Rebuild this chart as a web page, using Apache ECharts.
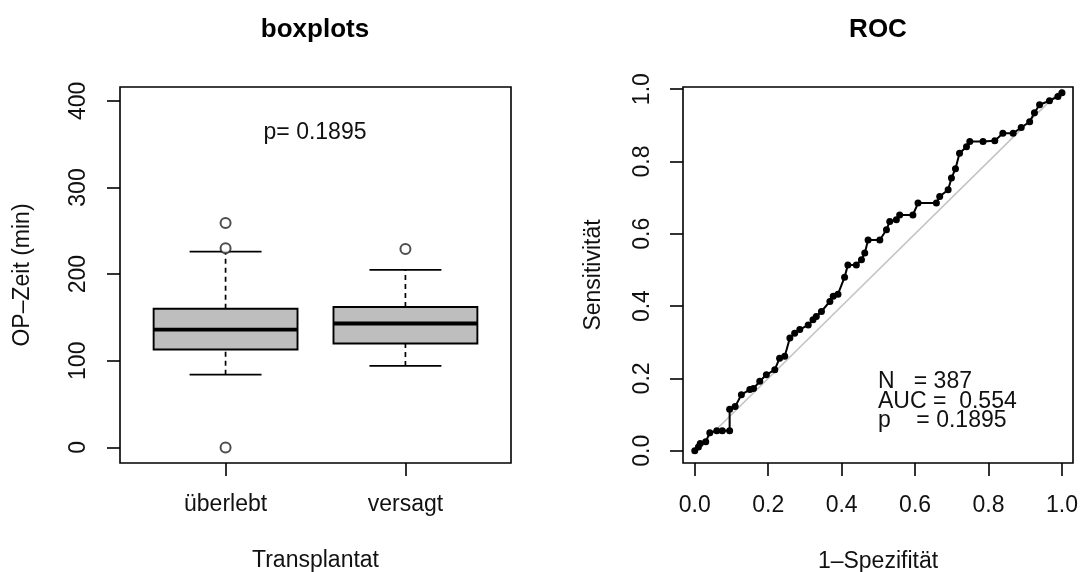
<!DOCTYPE html>
<html><head><meta charset="utf-8">
<script src="https://cdn.jsdelivr.net/npm/echarts@6/dist/echarts.min.js"></script>
<style>html,body{margin:0;padding:0;background:#fff}#c{width:1082px;height:572px}</style>
</head><body><div id="c"></div>
<script>
// ---------- data ----------
const categories = ['überlebt', 'versagt'];
const lowerWhisker = [84, 94];
const q1 = [113, 120];
const median = [136, 143];
const q3 = [160, 162];
const upperWhisker = [226, 205];
const outlierGroup = [1, 1, 1, 2];
const outlierValue = [259, 230, 0, 229];
const boxYTicks = [0, 100, 200, 300, 400];
const pText = 'p= 0.1895';

const fpr = [0.000,0.010,0.015,0.030,0.041,0.060,0.075,0.095,0.095,0.110,0.127,0.150,0.160,0.177,0.195,0.218,0.231,0.245,0.259,0.272,0.286,0.309,0.322,0.331,0.345,0.368,0.377,0.390,0.408,0.417,0.440,0.454,0.463,0.472,0.504,0.522,0.531,0.549,0.558,0.594,0.608,0.658,0.667,0.690,0.699,0.710,0.721,0.740,0.749,0.785,0.817,0.839,0.867,0.889,0.912,0.925,0.939,0.966,0.989,1.000];
const tpr = [0.000,0.010,0.020,0.025,0.050,0.055,0.055,0.055,0.115,0.122,0.155,0.169,0.172,0.192,0.210,0.224,0.256,0.261,0.312,0.325,0.335,0.348,0.362,0.371,0.385,0.413,0.427,0.433,0.480,0.514,0.514,0.528,0.547,0.583,0.583,0.611,0.634,0.639,0.652,0.652,0.685,0.685,0.703,0.722,0.754,0.780,0.823,0.841,0.855,0.855,0.857,0.878,0.878,0.894,0.910,0.935,0.957,0.968,0.980,0.990];
const diagX = [0, 1];
const diagY = [0, 1];
const rocTicks = [0, 0.2, 0.4, 0.6, 0.8, 1.0];
const statLines = ['N   = 387', 'AUC =  0.554', 'p    = 0.1895'];

// ---------- chart ----------
const FONT = '"Liberation Sans", Arial, Helvetica, sans-serif';
const FS = 23;
const TXT = '#111';
const chart = echarts.init(document.getElementById('c'), null, {renderer: 'canvas'});

const boxData = categories.map((c, i) => [i + 1, lowerWhisker[i], q1[i], median[i], q3[i], upperWhisker[i]]);
const outliers = outlierGroup.map((g, i) => [g, outlierValue[i]]);
const rocData = fpr.map((x, i) => [x, tpr[i]]);
const diagData = diagX.map((x, i) => [x, diagY[i]]);

function renderBox(params, api) {
  const x = api.value(0);
  const lw = api.value(1), a = api.value(2), m = api.value(3), b = api.value(4), uw = api.value(5);
  const half = api.size([0.4, 0])[0];
  const cap = api.size([0.2, 0])[0];
  const pLW = api.coord([x, lw]), pA = api.coord([x, a]), pM = api.coord([x, m]), pB = api.coord([x, b]), pUW = api.coord([x, uw]);
  const cx = pA[0];
  const solid = {stroke: '#000', lineWidth: 1.7, fill: null};
  const dashed = {stroke: '#000', lineWidth: 1.7, lineDash: [5, 4], fill: null};
  return {
    type: 'group',
    children: [
      {type: 'line', shape: {x1: cx, y1: pB[1], x2: cx, y2: pUW[1]}, style: dashed},
      {type: 'line', shape: {x1: cx, y1: pLW[1], x2: cx, y2: pA[1]}, style: dashed},
      {type: 'line', shape: {x1: cx - cap, y1: pUW[1], x2: cx + cap, y2: pUW[1]}, style: solid},
      {type: 'line', shape: {x1: cx - cap, y1: pLW[1], x2: cx + cap, y2: pLW[1]}, style: solid},
      {type: 'rect', shape: {x: cx - half, y: pB[1], width: 2 * half, height: pA[1] - pB[1]}, style: {fill: '#bebebe', stroke: '#000', lineWidth: 1.9}},
      {type: 'line', shape: {x1: cx - half, y1: pM[1], x2: cx + half, y2: pM[1]}, style: {stroke: '#000', lineWidth: 3.8}}
    ]
  };
}

const axisCommon = {
  axisLine: {show: false, onZero: false},
  splitLine: {show: false},
  axisTick: {show: true, inside: false, length: 13, lineStyle: {color: '#000', width: 1.6}},
};

const option = {
  animation: false,
  backgroundColor: '#fff',
  textStyle: {fontFamily: FONT},
  grid: [
    {left: 120, right: 1082 - 511, top: 87, bottom: 572 - 463, containLabel: false, outerBoundsMode: 'none', show: true, borderColor: '#000', borderWidth: 1.6, backgroundColor: 'transparent'},
    {left: 683, right: 1082 - 1073, top: 87, bottom: 572 - 463, containLabel: false, outerBoundsMode: 'none', show: true, borderColor: '#000', borderWidth: 1.6, backgroundColor: 'transparent'}
  ],
  xAxis: [
    Object.assign({}, axisCommon, {
      type: 'value', gridIndex: 0, min: 0.413, max: 2.587,
      axisTick: Object.assign({}, axisCommon.axisTick, {customValues: [1, 2]}),
      axisLabel: {customValues: [1, 2], formatter: v => categories[Math.round(v) - 1] || '', fontSize: FS, color: TXT, fontFamily: FONT, margin: 30},
      name: 'Transplantat', nameLocation: 'middle', nameGap: 86,
      nameTextStyle: {fontSize: FS, color: TXT, fontFamily: FONT}
    }),
    Object.assign({}, axisCommon, {
      type: 'value', gridIndex: 1, min: -0.032, max: 1.030,
      axisTick: Object.assign({}, axisCommon.axisTick, {customValues: rocTicks}),
      axisLabel: {customValues: rocTicks, formatter: v => v.toFixed(1), fontSize: FS, color: TXT, fontFamily: FONT, margin: 31},
      name: '1–Spezifität', nameLocation: 'middle', nameGap: 87,
      nameTextStyle: {fontSize: FS, color: TXT, fontFamily: FONT}
    })
  ],
  yAxis: [
    Object.assign({}, axisCommon, {
      type: 'value', gridIndex: 0, min: -18, max: 416,
      axisTick: Object.assign({}, axisCommon.axisTick, {customValues: boxYTicks}),
      axisLabel: {customValues: boxYTicks, rotate: 90, fontSize: FS, color: TXT, fontFamily: FONT, margin: 30},
      name: 'OP–Zeit (min)', nameLocation: 'middle', nameRotate: 90, nameGap: 86,
      nameTextStyle: {fontSize: FS, color: TXT, fontFamily: FONT}
    }),
    Object.assign({}, axisCommon, {
      type: 'value', gridIndex: 1, min: -0.034, max: 1.006,
      axisTick: Object.assign({}, axisCommon.axisTick, {customValues: rocTicks}),
      axisLabel: {customValues: rocTicks, rotate: 90, formatter: v => v.toFixed(1), fontSize: FS, color: TXT, fontFamily: FONT, margin: 29},
      name: 'Sensitivität', nameLocation: 'middle', nameRotate: 90, nameGap: 78,
      nameTextStyle: {fontSize: FS, color: TXT, fontFamily: FONT}
    })
  ],
  series: [
    {type: 'custom', xAxisIndex: 0, yAxisIndex: 0, renderItem: renderBox, data: boxData, encode: {x: 0, y: [1, 2, 3, 4, 5]}, z: 2},
    {type: 'scatter', xAxisIndex: 0, yAxisIndex: 0, data: outliers, symbol: 'emptyCircle', symbolSize: 10,
     itemStyle: {color: '#222', borderColor: '#222', borderWidth: 1.9}, z: 3},
    {type: 'line', xAxisIndex: 1, yAxisIndex: 1, data: diagData, symbol: 'none',
     lineStyle: {color: '#c4c4c4', width: 1.6}, z: 2},
    {type: 'line', xAxisIndex: 1, yAxisIndex: 1, data: rocData, symbol: 'circle', symbolSize: 7, showSymbol: true,
     itemStyle: {color: '#000'}, lineStyle: {color: '#000', width: 2}, z: 3}
  ],
  graphic: [
    {type: 'text', x: 315, y: 30, style: {text: 'boxplots', font: 'bold 26px ' + FONT, fill: '#000', textAlign: 'center', textVerticalAlign: 'middle', align: 'center', verticalAlign: 'middle'}},
    {type: 'text', x: 878, y: 30, style: {text: 'ROC', font: 'bold 26px ' + FONT, fill: '#000', textAlign: 'center', textVerticalAlign: 'middle', align: 'center', verticalAlign: 'middle'}},
    {type: 'text', x: 315, y: 133, style: {text: pText, font: FS + 'px ' + FONT, fill: TXT, textAlign: 'center', textVerticalAlign: 'middle', align: 'center', verticalAlign: 'middle'}},
  ].concat(statLines.map((t, i) => ({
    type: 'text', x: 878, y: 382 + i * 19.2,
    style: {text: t, font: FS + 'px ' + FONT, fill: TXT, textAlign: 'left', textVerticalAlign: 'middle', align: 'left', verticalAlign: 'middle'}
  })))
};
chart.setOption(option);
</script></body></html>
